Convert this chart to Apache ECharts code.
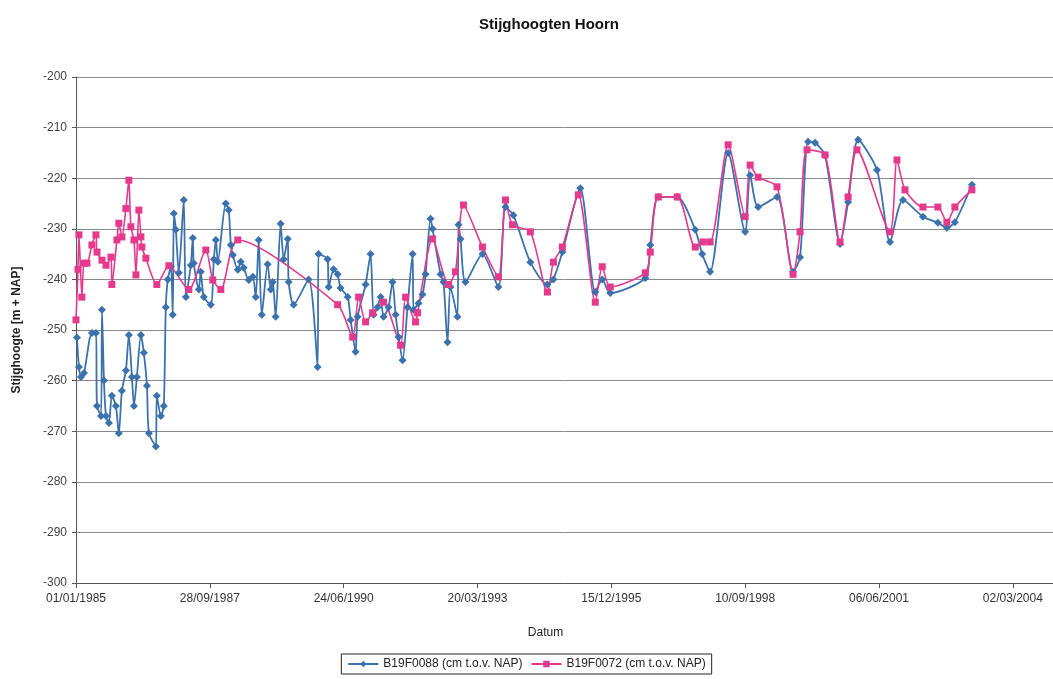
<!DOCTYPE html>
<html>
<head>
<meta charset="utf-8">
<script src="https://cdn.jsdelivr.net/npm/echarts@6/dist/echarts.min.js"></script>
<style>
html,body{margin:0;padding:0;background:#fff;}
#c{width:1053px;height:679px;}
</style>
</head>
<body>
<div id="c"></div>
<script>
const chartTitle = 'Stijghoogten Hoorn';
const xAxisName = 'Datum';
const yAxisName = 'Stijghoogte [m + NAP]';
const seriesNames = ['B19F0088 (cm t.o.v. NAP)', 'B19F0072 (cm t.o.v. NAP)'];
const axisStart = '1985-01-01';

const datesB19F0088 = [
'1985-01-08','1985-01-23','1985-02-07','1985-03-02','1985-04-30','1985-05-30','1985-06-07','1985-07-07','1985-07-14','1985-07-29',
'1985-08-13','1985-09-04','1985-09-26','1985-10-26','1985-11-17','1985-12-10','1986-01-09','1986-01-31','1986-02-23','1986-03-10',
'1986-04-01','1986-05-01','1986-05-23','1986-06-15','1986-06-30','1986-08-21','1986-08-28','1986-09-27','1986-10-19','1986-11-03',
'1986-11-18','1986-12-11','1986-12-25','1987-01-02','1987-01-17','1987-02-08','1987-03-17','1987-04-02','1987-05-09','1987-05-24',
'1987-05-31','1987-07-08','1987-07-22','1987-08-14','1987-10-05','1987-10-28','1987-11-12','1987-11-27','1988-01-25','1988-02-16',
'1988-03-03','1988-03-18','1988-04-24','1988-05-16','1988-06-07','1988-07-15','1988-08-14','1988-09-05','1988-09-27','1988-10-20',
'1988-12-03','1988-12-26','1989-01-10','1989-02-01','1989-03-10','1989-04-02','1989-05-02','1989-05-09','1989-06-15','1989-10-05',
'1989-12-11','1989-12-18','1990-02-24','1990-03-04','1990-04-10','1990-05-10','1990-06-01','1990-07-24','1990-08-15','1990-09-21',
'1990-10-06','1990-12-05','1991-01-11','1991-02-03','1991-03-04','1991-03-27','1991-04-18','1991-05-25','1991-06-24','1991-07-17',
'1991-08-08','1991-09-07','1991-10-14','1991-11-21','1991-11-28','1992-01-04','1992-02-03','1992-02-26','1992-04-03','1992-04-18',
'1992-06-17','1992-07-09','1992-08-08','1992-08-30','1992-10-21','1992-10-29','1992-11-13','1992-12-20','1993-04-26','1993-08-23',
'1993-10-15','1993-12-13','1994-04-19','1994-08-24','1994-10-08','1994-12-14','1995-04-27','1995-08-17','1995-10-08','1995-12-07',
'1996-08-25','1996-10-01','1996-11-30','1997-04-20','1997-09-02','1997-10-24','1997-12-22','1998-05-06','1998-09-10','1998-10-17',
'1998-12-16','1999-05-06','1999-09-03','1999-10-25','1999-12-24','2000-02-14','2000-04-29','2000-08-19','2000-10-18','2001-01-01',
'2001-05-22','2001-08-27','2001-12-02','2002-04-30','2002-08-20','2002-10-26','2002-12-25','2003-05-01'
];
const valuesB19F0088 = [
-251.5,-257.3,-259.3,-258.5,-250.6,-250.6,-265,-267,-246,-260,
-267,-268.4,-263,-265,-270.4,-262,-258,-251,-259.3,-265,
-259.3,-251,-254.5,-261,-270.4,-273,-263,-267,-265,-245.5,
-240,-237.5,-247,-227,-230.2,-238.7,-224.3,-243.5,-237.2,-231.8,
-236.8,-242,-238.5,-243.5,-245,-236,-232.2,-236.5,-225,-226.3,
-233.2,-235.2,-238.1,-236.5,-237.7,-240.1,-239.5,-243.5,-232.2,-247,
-237,-242,-240.5,-247.4,-229,-236,-232,-240.5,-245,-240,
-257.3,-235,-236,-241.5,-238,-239,-241.7,-243.5,-248,-254.3,
-247.4,-241,-235,-247,-245.5,-243.5,-247.4,-245.5,-240.5,-247,
-251.4,-256,-245.5,-235,-246,-244.7,-243,-239,-228,-230,
-239,-240.5,-252.4,-241.5,-247.4,-229.2,-232,-240.5,-235,-241.5,
-225.7,-227.3,-236.6,-241,-240,-234.6,-222,-242.5,-240,-242.7,
-239.7,-233.2,-223.7,-223.7,-230.2,-235,-238.5,-215,-230.6,-219.4,
-225.7,-223.7,-238.5,-235.6,-212.8,-213,-215.5,-233,-224.7,-212.4,
-218.4,-232.6,-224.3,-227.6,-228.8,-229.8,-228.7,-221.3
];

const datesB19F0072 = [
'1985-01-01','1985-01-16','1985-01-23','1985-02-14','1985-03-02','1985-03-24','1985-04-30','1985-05-30','1985-06-07','1985-07-14',
'1985-08-13','1985-09-19','1985-09-26','1985-11-03','1985-11-17','1985-12-10','1986-01-09','1986-01-31','1986-02-15','1986-03-10',
'1986-03-25','1986-04-16','1986-05-01','1986-05-08','1986-06-07','1986-08-28','1986-11-26','1987-04-24','1987-08-29','1987-10-20',
'1987-12-19','1988-04-24','1990-05-10','1990-08-30','1990-10-14','1990-12-05','1991-01-26','1991-04-18','1991-08-23','1991-09-30',
'1991-12-13','1991-12-28','1992-04-18','1992-08-15','1992-10-06','1992-12-05','1993-04-26','1993-08-23','1993-10-15','1993-12-06',
'1994-04-19','1994-08-24','1994-10-08','1994-12-14','1995-04-12','1995-08-17','1995-10-08','1995-12-07','1996-08-25','1996-10-01',
'1996-11-30','1997-04-20','1997-09-02','1997-10-31','1997-12-22','1998-05-06','1998-09-10','1998-10-17','1998-12-16','1999-05-06',
'1999-09-03','1999-10-25','1999-12-16','2000-04-29','2000-08-19','2000-10-18','2000-12-23','2001-08-27','2001-10-18','2001-12-17',
'2002-04-30','2002-08-20','2002-10-26','2002-12-25','2003-05-01'
];
const valuesB19F0072 = [
-248,-238,-231.2,-243.5,-236.8,-236.8,-233.2,-231.2,-234.6,-236.2,
-237.2,-235.6,-241,-232.2,-228.9,-231.6,-226,-220.4,-229.6,-232.2,
-239.1,-226.3,-231.6,-233.6,-235.8,-241,-237.3,-242,-234.2,-240.1,
-242,-232.2,-245,-251.4,-243.5,-248.4,-246.6,-244.5,-253,-243.5,
-248.4,-246.6,-232,-241,-238.5,-225.3,-233.6,-239.5,-224.3,-229.2,
-230.6,-242.5,-236.6,-233.6,-223.3,-244.5,-237.5,-241.5,-238.7,-234.6,
-223.7,-223.7,-233.6,-232.6,-232.6,-213.4,-227.6,-217.4,-219.8,-221.7,
-239,-230.6,-214.4,-215.4,-232.6,-223.7,-214.4,-230.6,-216.4,-222.3,
-225.7,-225.7,-228.7,-225.7,-222.3
];

const DAY = 86400000;
const t0 = Date.parse(axisStart + 'T00:00:00Z');
function toDay(s){ return (Date.parse(s + 'T00:00:00Z') - t0) / DAY; }
function pairs(dates, vals){ return dates.map((d,i)=>[toDay(d), vals[i]]); }
function pad(n){ return (n<10?'0':'') + n; }
function fmt(v){
  if (v % 1000 !== 0) return '';
  const d = new Date(t0 + v*DAY);
  return pad(d.getUTCDate()) + '/' + pad(d.getUTCMonth()+1) + '/' + d.getUTCFullYear();
}

const chart = echarts.init(document.getElementById('c'), null, {renderer:'canvas'});
const ff = 'Liberation Sans, Arial, sans-serif';
chart.setOption({
  backgroundColor:'#ffffff',
  animation:false,
  title:{
    text: chartTitle, left: 474, top: 12,
    textStyle:{fontFamily:ff, fontSize:15, fontWeight:'bold', color:'#111'}
  },
  legend:{
    bottom: 5, left: 'center',
    data: seriesNames,
    borderColor:'#222', borderWidth:1, padding:[4,6],
    itemWidth: 30, itemHeight: 8, itemGap: 8,
    textStyle:{fontFamily:ff, fontSize:12, color:'#222'}
  },
  grid:{left:76, right:0, top:77, bottom:96, containLabel:false},
  xAxis:{
    type:'value', min:0, max:7300, interval:1000,
    name: xAxisName, nameLocation:'middle', nameGap:44,
    nameTextStyle:{fontFamily:ff, fontSize:12, color:'#222', padding:[0,38,0,0]},
    axisLine:{show:true, lineStyle:{color:'#555', width:1}},
    axisTick:{show:true, length:5, lineStyle:{color:'#555'}},
    axisLabel:{formatter: fmt, showMaxLabel:false, fontFamily:ff, fontSize:12, color:'#333', margin:10},
    splitLine:{show:false}
  },
  yAxis:{
    type:'value', min:-300, max:-200, interval:10,
    name: yAxisName, nameLocation:'middle', nameGap:53, nameRotate:90,
    nameTextStyle:{fontFamily:ff, fontSize:12, fontWeight:'bold', color:'#222'},
    axisLine:{show:true, lineStyle:{color:'#555', width:1}},
    axisTick:{show:true, length:4, lineStyle:{color:'#555'}},
    axisLabel:{fontFamily:ff, fontSize:12, color:'#444', margin:9},
    splitLine:{show:true, lineStyle:{color:'#8a8a8a', width:1}}
  },
  series:[
    {
      name: seriesNames[0], type:'line',
      data: pairs(datesB19F0088, valuesB19F0088),
      smooth:0.25, symbol:'diamond', symbolSize:8, showAllSymbol:true,
      lineStyle:{color:'#3b72ad', width:1.8},
      itemStyle:{color:'#3b72ad'}
    },
    {
      name: seriesNames[1], type:'line',
      data: pairs(datesB19F0072, valuesB19F0072),
      smooth:0.25, symbol:'rect', symbolSize:7, showAllSymbol:true,
      lineStyle:{color:'#e4398d', width:1.6},
      itemStyle:{color:'#e4398d'}
    }
  ]
});
</script>
</body>
</html>
